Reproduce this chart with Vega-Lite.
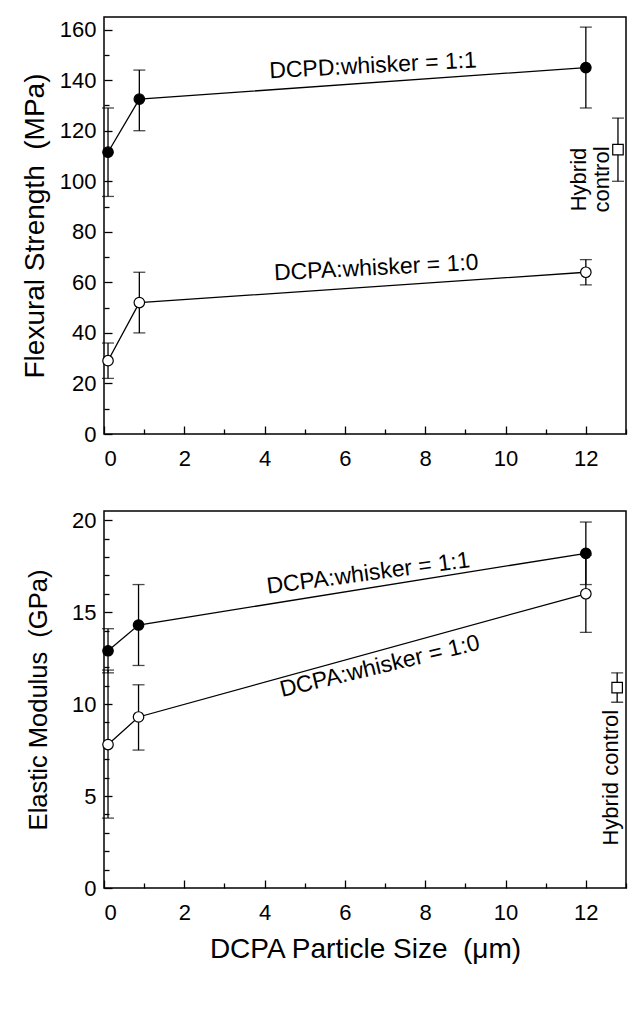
{
  "$schema": "https://vega.github.io/schema/vega-lite/v6.json",
  "background": "white",
  "padding": {"left": 20, "top": 16, "right": 5, "bottom": 5},
  "config": {
    "font": "Liberation Sans",
    "view": {"stroke": "black", "strokeWidth": 1.5},
    "axis": {"grid": false, "domain": false, "labelFont": "Liberation Sans", "labelFontSize": 22, "labelColor": "black", "titleFont": "Liberation Sans", "titleFontSize": 28, "titleFontWeight": "normal", "titleColor": "black", "tickColor": "black", "tickWidth": 1.3},
    "concat": {"spacing": 38}
  },
  "datasets": {
    "flex": [
      {"series": "1:1", "x": 0.1, "y": 111.5, "lo": 94, "hi": 129},
      {"series": "1:1", "x": 0.88, "y": 132.5, "lo": 120, "hi": 144},
      {"series": "1:1", "x": 12, "y": 145, "lo": 129, "hi": 161},
      {"series": "1:0", "x": 0.1, "y": 29, "lo": 22, "hi": 36},
      {"series": "1:0", "x": 0.88, "y": 52, "lo": 40, "hi": 64},
      {"series": "1:0", "x": 12, "y": 64, "lo": 59, "hi": 69},
      {"series": "control", "x": 12.8, "y": 112.5, "lo": 100, "hi": 125}
    ],
    "flexText": [
      {"label": "DCPD:whisker = 1:1", "x": 6.7, "y": 145.7},
      {"label": "DCPA:whisker = 1:0", "x": 6.78, "y": 65.7},
      {"label": "Hybrid\ncontrol", "x": 11.83, "y": 100.7}
    ],
    "mod": [
      {"series": "1:1", "x": 0.1, "y": 12.9, "lo": 11.7, "hi": 14.1},
      {"series": "1:1", "x": 0.86, "y": 14.3, "lo": 12.1, "hi": 16.5},
      {"series": "1:1", "x": 12, "y": 18.2, "lo": 16.5, "hi": 19.9},
      {"series": "1:0", "x": 0.1, "y": 7.8, "lo": 3.8, "hi": 11.85},
      {"series": "1:0", "x": 0.86, "y": 9.3, "lo": 7.5, "hi": 11.05},
      {"series": "1:0", "x": 12, "y": 16.0, "lo": 13.9, "hi": 18.1},
      {"series": "control", "x": 12.78, "y": 10.9, "lo": 10.1, "hi": 11.7}
    ],
    "modText": [
      {"label": "DCPA:whisker = 1:1", "x": 6.58, "y": 17.1},
      {"label": "DCPA:whisker = 1:0", "x": 6.87, "y": 12.05},
      {"label": "Hybrid control", "x": 12.62, "y": 6.0}
    ]
  },
  "vconcat": [
    {
      "width": 522,
      "height": 417,
      "layer": [
        {
          "data": {"name": "flex"},
          "mark": {"type": "rule", "color": "black", "strokeWidth": 1.3},
          "encoding": {
            "x": {"field": "x", "type": "quantitative", "scale": {"domain": [0, 13], "nice": false, "zero": false},
                  "axis": {"orient": "bottom", "values": [0, 2, 4, 6, 8, 10, 12], "ticks": false, "labelPadding": 14, "title": null}},
            "y": {"field": "lo", "type": "quantitative", "scale": {"domain": [0, 165], "nice": false},
                  "axis": {"orient": "left", "values": [0, 20, 40, 60, 80, 100, 120, 140, 160], "ticks": false, "labelPadding": 8, "title": "Flexural Strength \u00a0(MPa)", "titlePadding": 10}},
            "y2": {"field": "hi"}
          }
        },
        {
          "data": {"name": "flex"},
          "mark": {"type": "tick", "orient": "horizontal", "color": "black", "size": 12, "thickness": 1.3},
          "encoding": {
            "x": {"field": "x", "type": "quantitative", "axis": {"orient": "bottom", "values": [0, 2, 4, 6, 8, 10, 12], "labels": false, "tickSize": -8, "title": null}},
            "y": {"field": "lo", "type": "quantitative", "axis": {"orient": "left", "values": [0, 20, 40, 60, 80, 100, 120, 140, 160], "labels": false, "tickSize": -8, "title": null}}
          }
        },
        {
          "data": {"name": "flex"},
          "mark": {"type": "tick", "orient": "horizontal", "color": "black", "size": 12, "thickness": 1.3},
          "encoding": {
            "x": {"field": "x", "type": "quantitative", "axis": {"orient": "bottom", "values": [1, 3, 5, 7, 9, 11, 13], "labels": false, "tickSize": -5, "title": null}},
            "y": {"field": "hi", "type": "quantitative", "axis": {"orient": "left", "values": [10, 30, 50, 70, 90, 110, 130, 150], "labels": false, "tickSize": -5, "title": null}}
          }
        },
        {
          "data": {"name": "flex"},
          "transform": [{"filter": "datum.series != 'control'"}],
          "mark": {"type": "line", "color": "black", "strokeWidth": 1.3},
          "encoding": {
            "x": {"field": "x", "type": "quantitative", "axis": null},
            "y": {"field": "y", "type": "quantitative", "axis": null},
            "detail": {"field": "series"},
            "order": {"field": "x"}
          }
        },
        {
          "data": {"name": "flex"},
          "mark": {"type": "point", "filled": false, "stroke": "black", "strokeWidth": 1.2, "opacity": 1},
          "encoding": {
            "x": {"field": "x", "type": "quantitative", "axis": null},
            "y": {"field": "y", "type": "quantitative", "axis": null},
            "shape": {"field": "series", "scale": {"domain": ["1:1", "1:0", "control"], "range": ["circle", "circle", "square"]}, "legend": null},
            "fill": {"field": "series", "scale": {"domain": ["1:1", "1:0", "control"], "range": ["black", "white", "white"]}, "legend": null},
            "size": {"field": "series", "type": "nominal", "scale": {"domain": ["1:1", "1:0", "control"], "range": [110, 110, 55]}, "legend": null}
          }
        },
        {
          "data": {"name": "flexText"},
          "transform": [{"filter": "datum.x < 10"}],
          "mark": {"type": "text", "fontSize": 23, "angle": 357, "align": "center", "baseline": "middle", "color": "black"},
          "encoding": {
            "x": {"field": "x", "type": "quantitative", "axis": null},
            "y": {"field": "y", "type": "quantitative", "axis": null},
            "text": {"field": "label"}
          }
        },
        {
          "data": {"name": "flexText"},
          "transform": [{"filter": "datum.x > 10"}],
          "mark": {"type": "text", "fontSize": 22, "angle": 270, "align": "center", "baseline": "middle", "lineBreak": "\n", "lineHeight": 23, "color": "black"},
          "encoding": {
            "x": {"field": "x", "type": "quantitative", "axis": null},
            "y": {"field": "y", "type": "quantitative", "axis": null},
            "text": {"field": "label"}
          }
        }
      ],
      "resolve": {"axis": {"x": "independent", "y": "independent"}}
    },
    {
      "width": 522,
      "height": 377,
      "layer": [
        {
          "data": {"name": "mod"},
          "mark": {"type": "rule", "color": "black", "strokeWidth": 1.3},
          "encoding": {
            "x": {"field": "x", "type": "quantitative", "scale": {"domain": [0, 13], "nice": false, "zero": false},
                  "axis": {"orient": "bottom", "values": [0, 2, 4, 6, 8, 10, 12], "ticks": false, "labelPadding": 14, "title": "DCPA Particle Size \u00a0(μm)", "titlePadding": 12}},
            "y": {"field": "lo", "type": "quantitative", "scale": {"domain": [0, 20.5], "nice": false},
                  "axis": {"orient": "left", "values": [0, 5, 10, 15, 20], "ticks": false, "labelPadding": 8, "title": "Elastic Modulus \u00a0(GPa)", "titleFontSize": 25.5, "titlePadding": 20}},
            "y2": {"field": "hi"}
          }
        },
        {
          "data": {"name": "mod"},
          "mark": {"type": "tick", "orient": "horizontal", "color": "black", "size": 12, "thickness": 1.3},
          "encoding": {
            "x": {"field": "x", "type": "quantitative", "axis": {"orient": "bottom", "values": [0, 2, 4, 6, 8, 10, 12], "labels": false, "tickSize": -8, "title": null}},
            "y": {"field": "lo", "type": "quantitative", "axis": {"orient": "left", "values": [0, 5, 10, 15, 20], "labels": false, "tickSize": -8, "title": null}}
          }
        },
        {
          "data": {"name": "mod"},
          "mark": {"type": "tick", "orient": "horizontal", "color": "black", "size": 12, "thickness": 1.3},
          "encoding": {
            "x": {"field": "x", "type": "quantitative", "axis": {"orient": "bottom", "values": [1, 3, 5, 7, 9, 11, 13], "labels": false, "tickSize": -5, "title": null}},
            "y": {"field": "hi", "type": "quantitative", "axis": {"orient": "left", "values": [1, 2, 3, 4, 6, 7, 8, 9, 11, 12, 13, 14, 16, 17, 18, 19], "labels": false, "tickSize": -5, "title": null}}
          }
        },
        {
          "data": {"name": "mod"},
          "transform": [{"filter": "datum.series != 'control'"}],
          "mark": {"type": "line", "color": "black", "strokeWidth": 1.3},
          "encoding": {
            "x": {"field": "x", "type": "quantitative", "axis": null},
            "y": {"field": "y", "type": "quantitative", "axis": null},
            "detail": {"field": "series"},
            "order": {"field": "x"}
          }
        },
        {
          "data": {"name": "mod"},
          "mark": {"type": "point", "filled": false, "stroke": "black", "strokeWidth": 1.2, "opacity": 1},
          "encoding": {
            "x": {"field": "x", "type": "quantitative", "axis": null},
            "y": {"field": "y", "type": "quantitative", "axis": null},
            "shape": {"field": "series", "scale": {"domain": ["1:1", "1:0", "control"], "range": ["circle", "circle", "square"]}, "legend": null},
            "fill": {"field": "series", "scale": {"domain": ["1:1", "1:0", "control"], "range": ["black", "white", "white"]}, "legend": null},
            "size": {"field": "series", "type": "nominal", "scale": {"domain": ["1:1", "1:0", "control"], "range": [110, 110, 55]}, "legend": null}
          }
        },
        {
          "data": {"name": "modText"},
          "transform": [{"filter": "datum.label == 'DCPA:whisker = 1:1'"}],
          "mark": {"type": "text", "fontSize": 23, "angle": 352.5, "align": "center", "baseline": "middle", "color": "black"},
          "encoding": {
            "x": {"field": "x", "type": "quantitative", "axis": null},
            "y": {"field": "y", "type": "quantitative", "axis": null},
            "text": {"field": "label"}
          }
        },
        {
          "data": {"name": "modText"},
          "transform": [{"filter": "datum.label == 'DCPA:whisker = 1:0'"}],
          "mark": {"type": "text", "fontSize": 23, "angle": 346.5, "align": "center", "baseline": "middle", "color": "black"},
          "encoding": {
            "x": {"field": "x", "type": "quantitative", "axis": null},
            "y": {"field": "y", "type": "quantitative", "axis": null},
            "text": {"field": "label"}
          }
        },
        {
          "data": {"name": "modText"},
          "transform": [{"filter": "datum.label == 'Hybrid control'"}],
          "mark": {"type": "text", "fontSize": 22, "angle": 270, "align": "center", "baseline": "middle", "color": "black"},
          "encoding": {
            "x": {"field": "x", "type": "quantitative", "axis": null},
            "y": {"field": "y", "type": "quantitative", "axis": null},
            "text": {"field": "label"}
          }
        }
      ],
      "resolve": {"axis": {"x": "independent", "y": "independent"}}
    }
  ]
}
